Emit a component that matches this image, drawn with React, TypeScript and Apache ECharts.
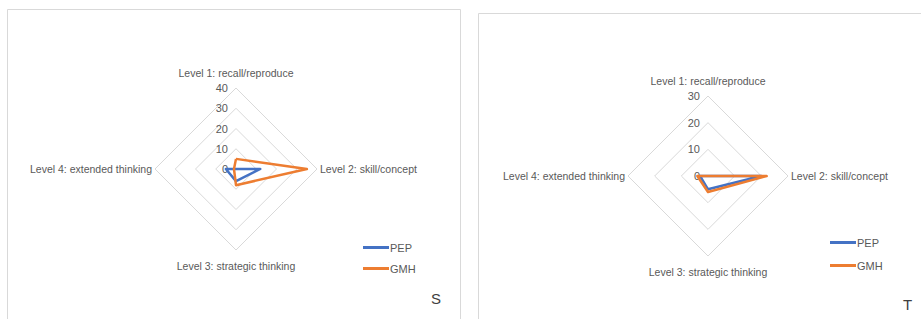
import React, { useEffect, useRef } from "react";
import * as echarts from "echarts";

// Categories in chart order: top, right, bottom, left
const categories = [
  "Level 1: recall/reproduce",
  "Level 2: skill/concept",
  "Level 3: strategic thinking",
  "Level 4: extended thinking",
];
const seriesNames = ["PEP", "GMH"];

// Panel S
const pepS = [0, 12, 6, 5];
const gmhS = [5, 35, 8, 1];
const maxS = 40;
const splitS = 4;

// Panel T
const pepT = [0, 20, 5, 3];
const gmhT = [0, 22, 6, 4];
const maxT = 30;
const splitT = 3;

const panelLetters = ["S", "T"];

const colors = ["#4472C4", "#ED7D31"];
const textColor = "#595959";
const fontFamily = "'Liberation Sans', Arial, sans-serif";

// ECharts places indicators counter-clockwise from the top: top, left, bottom, right
const order = [0, 3, 2, 1];

function indicators(max: number) {
  return order.map((i, k) => ({
    name: categories[i],
    max,
    min: 0,
    axisLabel:
      k === 0
        ? { show: true, color: textColor, fontSize: 11, fontFamily, margin: 8 }
        : { show: false },
  }));
}

function reorder(v: number[]) {
  return order.map((i) => v[i]);
}

export default function App() {
  const ref = useRef<HTMLDivElement>(null);
  useEffect(() => {
    if (!ref.current) return;
    const chart = echarts.init(ref.current, undefined, { renderer: "svg" });
    const radarCommon = {
      shape: "polygon" as const,
      startAngle: 90,
      nameGap: 3,
      axisName: {
        color: textColor,
        fontSize: 10.5,
        fontFamily,
        padding: [7, 0, 7, 0],
      },
      splitArea: { show: false },
      axisLine: { show: false },
      axisTick: { show: false },
      axisLabel: { show: false },
      splitLine: { lineStyle: { color: "#d9d9d9", width: 1 } },
    };
    const mkSeries = (radarIndex: number, pep: number[], gmh: number[]) => ({
      type: "radar",
      radarIndex,
      symbol: "none",
      data: [
        {
          name: seriesNames[0],
          value: reorder(pep),
          lineStyle: { color: colors[0], width: 2.5 },
          itemStyle: { color: colors[0] },
        },
        {
          name: seriesNames[1],
          value: reorder(gmh),
          lineStyle: { color: colors[1], width: 2.5 },
          itemStyle: { color: colors[1] },
        },
      ],
    });
    const legendCommon = {
      orient: "vertical" as const,
      data: seriesNames,
      icon: "rect",
      itemWidth: 26,
      itemHeight: 3,
      itemGap: 10,
      textStyle: { color: textColor, fontSize: 11, fontFamily, padding: [0, 0, 0, -4] },
    };
    chart.setOption({
      animation: false,
      color: colors,
      radar: [
        { ...radarCommon, center: [236, 169], radius: 81, splitNumber: splitS, indicator: indicators(maxS) },
        { ...radarCommon, center: [708, 176], radius: 80, splitNumber: splitT, indicator: indicators(maxT) },
      ],
      legend: [
        { ...legendCommon, left: 358, top: 237 },
        { ...legendCommon, left: 825, top: 232, itemGap: 12 },
      ],
      graphic: [
        {
          type: "rect",
          shape: { x: 7.5, y: 9.5, width: 453, height: 320 },
          style: { fill: "none", stroke: "#d9d9d9", lineWidth: 1 },
          silent: true,
        },
        {
          type: "rect",
          shape: { x: 478.5, y: 13.5, width: 460, height: 320 },
          style: { fill: "none", stroke: "#d9d9d9", lineWidth: 1 },
          silent: true,
        },
        {
          type: "text",
          x: 431,
          y: 291,
          style: { text: panelLetters[0], fill: "#404040", fontSize: 15, fontFamily },
        },
        {
          type: "text",
          x: 903,
          y: 297,
          style: { text: panelLetters[1], fill: "#404040", fontSize: 15, fontFamily },
        },
      ],
      series: [mkSeries(0, pepS, gmhS), mkSeries(1, pepT, gmhT)],
    });
    return () => chart.dispose();
  }, []);
  return (
    <div
      ref={ref}
      style={{ position: "fixed", left: 0, top: 0, width: 921, height: 319, background: "#fff" }}
    />
  );
}
